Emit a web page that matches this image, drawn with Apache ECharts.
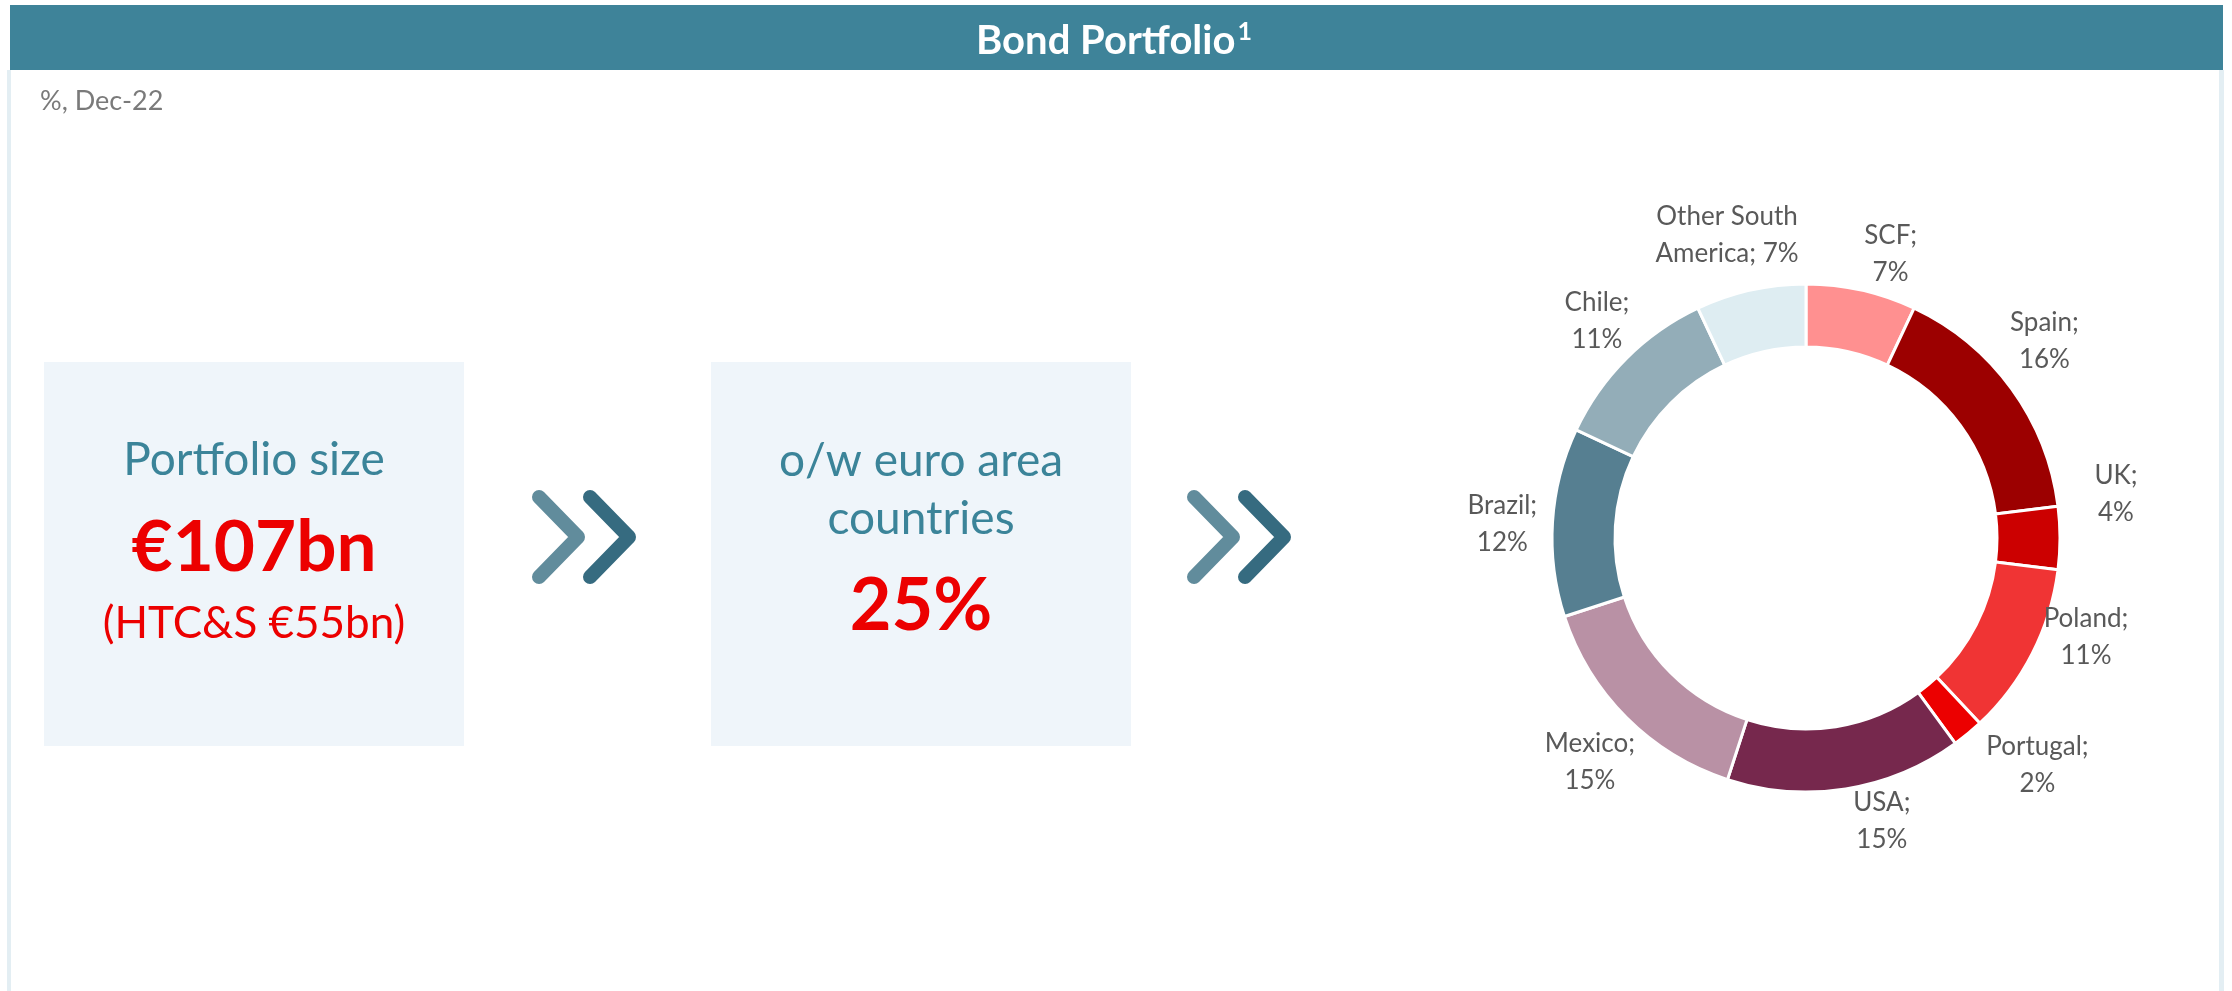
<!DOCTYPE html>
<html>
<head>
<meta charset="utf-8">
<title>Bond Portfolio</title>
<script src="https://cdn.jsdelivr.net/npm/echarts@6/dist/echarts.min.js"></script>
<style>
  html, body { margin: 0; padding: 0; background: #ffffff; }
  #chart { width: 2232px; height: 991px; }
</style>
</head>
<body>
<div id="chart"></div>
<script>
// Bond portfolio by geography, % Dec-22
const countries = ["SCF", "Spain", "UK", "Poland", "Portugal", "USA", "Mexico", "Brazil", "Chile", "Other South America"];
const shares = [7, 16, 4, 11, 2, 15, 15, 12, 11, 7];
const sliceColors = ["#ff9090", "#9c0000", "#cc0000", "#f03434", "#ec0000", "#76284d", "#b991a5", "#567f91", "#93adb8", "#deedf2"];

// summary boxes
const portfolioSize = "€107bn";
const htcsSize = "€55bn";
const euroAreaShare = "25%";

const FONT = "Lato, 'Noto Sans', sans-serif";
const TEAL = "#3b8499";
const RED = "#ec0000";

const cx = 1806;
const cy = 538;
// hand placed labels in the original: small angle (deg) / radius nudges per slice
const labelAngleNudge = [4, -3.5, -8, -7.5, -6, -6, -1, -1, 1, -2];
const labelRadius = [296, 309, 313, 297, 324, 293, 311, 304, 301, 313];
const total = shares.reduce((a, b) => a + b, 0);

const chart = echarts.init(document.getElementById("chart"), null, { renderer: "canvas" });

// decorations: two double chevrons
function chevron(x, color) {
  return {
    type: "polyline",
    shape: { points: [[x, 497], [x + 39, 537], [x, 577]] },
    style: { stroke: color, lineWidth: 14, lineCap: "round", lineJoin: "round", fill: null },
  };
}

function boxText(x, y, text, size, weight, color) {
  return {
    type: "text",
    x: x,
    y: y,
    style: {
      text: text,
      fontFamily: FONT,
      fontSize: size,
      fontWeight: weight,
      fill: color,
      align: "center",
      verticalAlign: "middle",
    },
  };
}

const option = {
  animation: false,
  backgroundColor: "#ffffff",
  graphic: [
    { type: "rect", shape: { x: 7, y: 70, width: 4, height: 921 }, style: { fill: "#e3eef3" } },
    { type: "rect", shape: { x: 2219, y: 70, width: 5, height: 921 }, style: { fill: "#e3eef3" } },
    { type: "rect", shape: { x: 10, y: 5, width: 2213, height: 65 }, style: { fill: "#3e8399" } },
    {
      type: "text",
      x: 1114,
      y: 38,
      style: {
        text: "{t|Bond Portfolio}{s|1}",
        align: "center",
        verticalAlign: "middle",
        rich: {
          t: { fontFamily: FONT, fontSize: 40, fontWeight: "bold", fill: "#ffffff", lineHeight: 46, verticalAlign: "bottom" },
          s: { fontFamily: FONT, fontSize: 25, fontWeight: "bold", fill: "#ffffff", lineHeight: 46, verticalAlign: "top", padding: [4, 0, 0, 2] },
        },
      },
    },
    {
      type: "text",
      x: 40,
      y: 101,
      style: { text: "%, Dec-22", fontFamily: FONT, fontSize: 27, fill: "#7a7a7a", align: "left", verticalAlign: "middle" },
    },
    { type: "rect", shape: { x: 44, y: 362, width: 420, height: 384 }, style: { fill: "#eff5fa" } },
    { type: "rect", shape: { x: 711, y: 362, width: 420, height: 384 }, style: { fill: "#eff5fa" } },
    boxText(254, 460, "Portfolio size", 46, "normal", TEAL),
    boxText(254, 548, portfolioSize, 71, "bold", RED),
    boxText(254, 624, "(HTC&S " + htcsSize + ")", 44, "normal", RED),
    boxText(921, 461, "o/w euro area", 46, "normal", TEAL),
    boxText(921, 519, "countries", 46, "normal", TEAL),
    boxText(921, 607, euroAreaShare, 72, "bold", RED),
    chevron(539, "#618c9c"),
    chevron(590, "#366b80"),
    chevron(1194, "#618c9c"),
    chevron(1245, "#366b80"),
  ],
  series: [
    {
      type: "pie",
      center: [cx, cy],
      radius: [191, 254],
      startAngle: 90,
      clockwise: true,
      avoidLabelOverlap: false,
      itemStyle: { borderColor: "#ffffff", borderWidth: 3 },
      label: {
        show: true,
        position: "outside",
        fontFamily: FONT,
        fontSize: 26,
        lineHeight: 37,
        color: "#595959",
        formatter: (p) =>
          p.name === "Other South America"
            ? "Other South\nAmerica; " + p.value + "%"
            : p.name + ";\n" + p.value + "%",
      },
      labelLine: { show: false },
      labelLayout: (params) => {
        const i = params.dataIndex;
        let before = 0;
        for (let k = 0; k < i; k++) before += shares[k];
        const mid = ((before + shares[i] / 2) / total) * 2 * Math.PI + (labelAngleNudge[i] * Math.PI) / 180;
        return {
          x: cx + Math.sin(mid) * labelRadius[i],
          y: cy - Math.cos(mid) * labelRadius[i],
          align: "center",
          verticalAlign: "middle",
        };
      },
      emphasis: { disabled: true },
      data: countries.map((name, i) => ({
        name: name,
        value: shares[i],
        itemStyle: { color: sliceColors[i] },
      })),
    },
  ],
};

chart.setOption(option);
</script>
</body>
</html>
